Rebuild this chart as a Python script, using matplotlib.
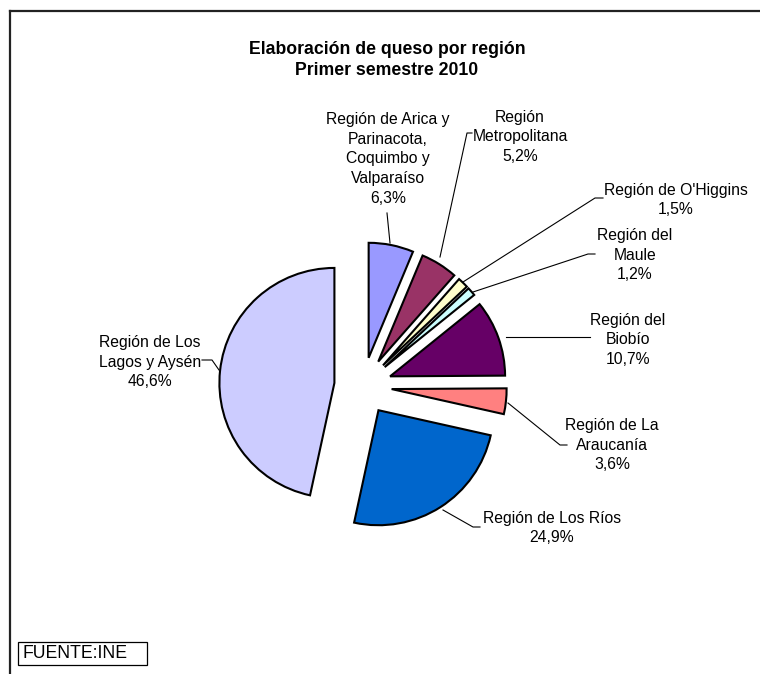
import matplotlib
matplotlib.use("Agg")
import matplotlib.pyplot as plt
from matplotlib.patches import Rectangle

plt.rcParams['font.family'] = ['Liberation Sans', 'DejaVu Sans']

# datos: elaboración de queso por región, primer semestre 2010 (%)
regiones = ["Región de Arica y\nParinacota,\nCoquimbo y\nValparaíso",
            "Región\nMetropolitana",
            "Región de O'Higgins",
            "Región del\nMaule",
            "Región del\nBiobío",
            "Región de La\nAraucanía",
            "Región de Los Ríos",
            "Región de Los\nLagos y Aysén"]
porcentajes = [6.3, 5.2, 1.5, 1.2, 10.7, 3.6, 24.9, 46.6]
colores = ["#9999FF", "#993366", "#FFFFCC", "#CCFFFF",
           "#660066", "#FF8080", "#0066CC", "#CCCCFF"]

W, H = 760, 674
CX, CY, R = 363, 386, 115  # centro y radio del pie en pixeles


def d(px, py):
    # pixeles de la imagen -> coordenadas del eje
    return (px - CX) / R, (CY - py) / R


fig = plt.figure(figsize=(W / 100, H / 100), dpi=100)
ax = fig.add_axes([0, 0, 1, 1])
ax.pie(porcentajes, colors=colores, startangle=90, counterclock=False,
       explode=[0.25] * len(porcentajes), radius=1,
       wedgeprops=dict(edgecolor='black', linewidth=1.5))
ax.set_xlim((0 - CX) / R, (W - CX) / R)
ax.set_ylim((CY - H) / R, CY / R)
ax.set_aspect('auto')
ax.axis('off')

# posiciones de etiquetas (centro del texto) y lineas guia
etiq_pos = [(388, 159), (520, 137), (676, 200), (635, 255),
            (628, 340), (612, 445), (552, 528), (150, 362)]
guias = [
    [(387, 213), (390, 243)],
    [(472, 133), (467, 133), (440, 257)],
    [(603, 198), (595, 198), (463, 282)],
    [(595, 254), (588, 254), (473, 292)],
    [(506, 337), (590, 337)],
    [(508, 403), (560, 445), (567, 445)],
    [(443, 510), (473, 527), (480, 527)],
    [(202, 360), (212, 360), (219, 370)],
]

for nombre, pct, pos, guia in zip(regiones, porcentajes, etiq_pos, guias):
    txt = nombre + "\n" + ("%.1f%%" % pct).replace(".", ",")
    x, y = d(*pos)
    ax.text(x, y, txt, ha='center', va='center', fontsize=11.3,
            linespacing=1.38, color='black')
    xs = [d(*p)[0] for p in guia]
    ys = [d(*p)[1] for p in guia]
    ax.plot(xs, ys, color='black', linewidth=0.8)

# titulo
x, y = d(387, 60)
ax.text(x, y, "Elaboración de queso por región\nPrimer semestre 2010",
        ha='center', va='center', fontsize=12.7, fontweight='bold',
        linespacing=1.38)

# marco del grafico
ax.plot([d(10, 11)[0], d(W + 5, 11)[0]], [d(10, 11)[1]] * 2,
        color='#222222', linewidth=1.6, clip_on=False)
ax.plot([d(10, 11)[0]] * 2, [d(10, 11)[1], d(10, H + 5)[1]],
        color='#222222', linewidth=1.6, clip_on=False)

# fuente
x0, y0 = d(18, 665)
ax.add_patch(Rectangle((x0, y0), 129 / R, 23 / R, facecolor='white',
                       edgecolor='black', linewidth=0.9))
x, y = d(22, 654)
ax.text(x, y, "FUENTE:INE", ha='left', va='center', fontsize=12.7)

plt.savefig("out.png", dpi=100)
